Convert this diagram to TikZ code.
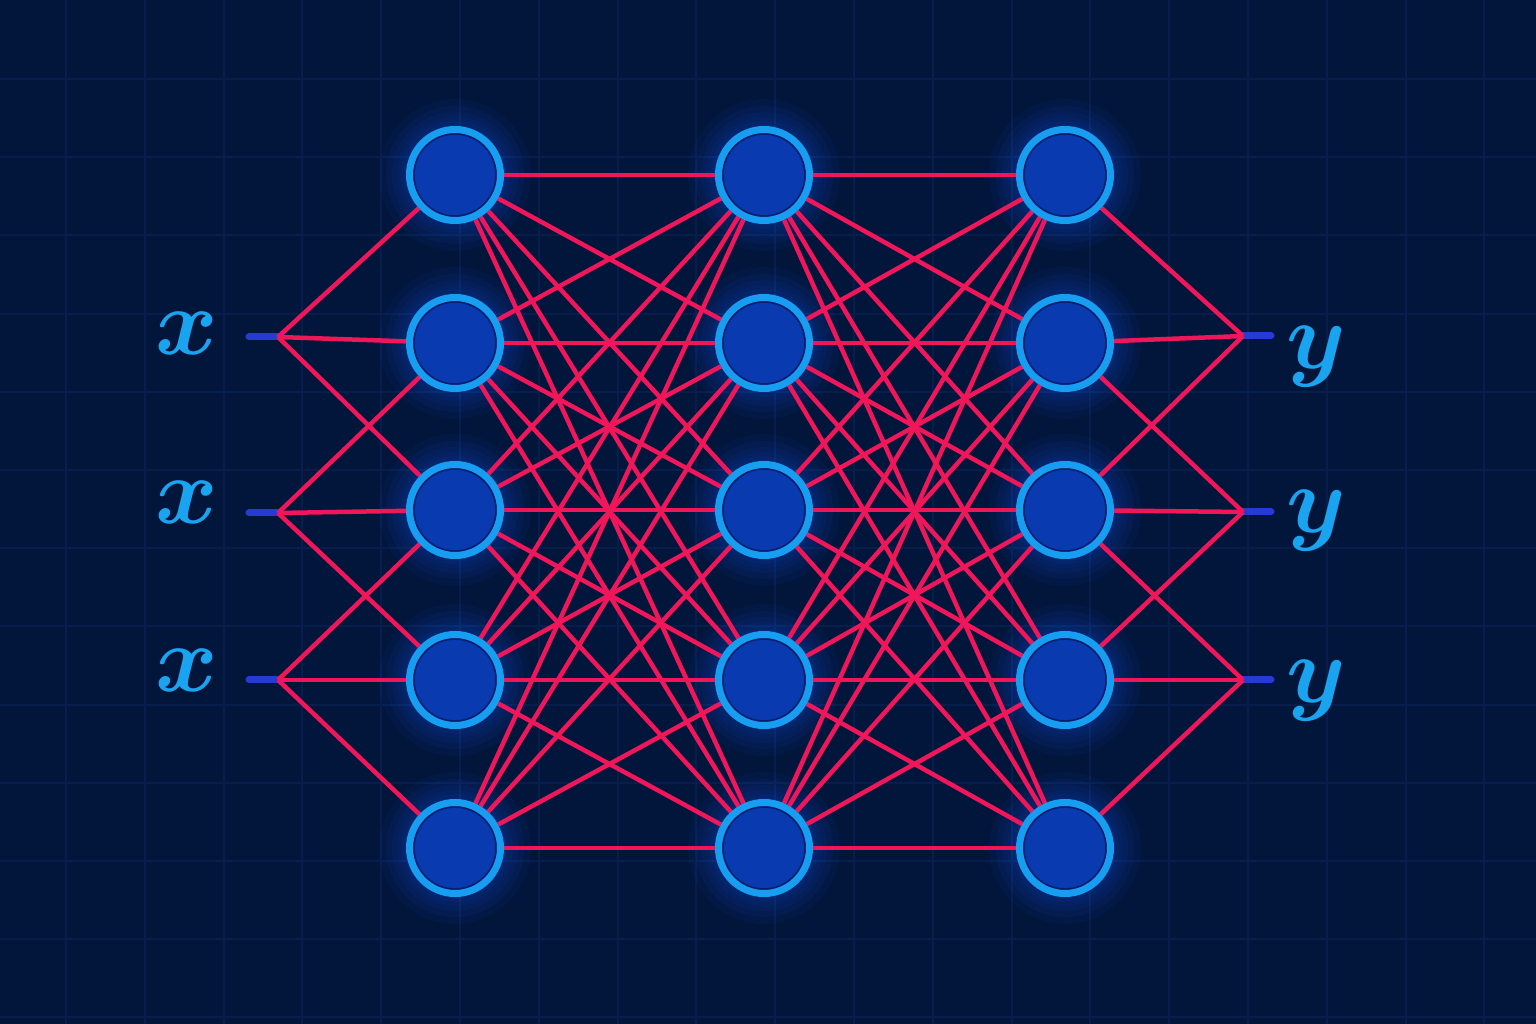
\RequirePackage{fix-cm}
\documentclass[tikz,border=0pt]{standalone}
\definecolor{bgc}{RGB}{2,21,58}
\definecolor{gridc}{RGB}{7,30,76}
\definecolor{edgec}{RGB}{240,22,90}
\definecolor{ringc}{RGB}{24,158,240}
\definecolor{fillc}{RGB}{10,58,176}
\definecolor{stubc}{RGB}{38,58,212}
\definecolor{labc}{RGB}{26,164,240}
\definecolor{glowc}{RGB}{20,90,255}
\definecolor{innerc}{RGB}{8,30,110}
\pgfdeclarelayer{gridlayer}
\pgfdeclarelayer{glowlayer}
\pgfdeclarelayer{edgelayer}
\pgfsetlayers{gridlayer,glowlayer,edgelayer,main}
\tikzset{
  neuron/.style={circle, draw=ringc, line width=0.7mm, fill=fillc,
    minimum size=9.1mm, inner sep=0pt,
    path picture={\draw[innerc,line width=0.2mm] (path picture bounding box.center) circle (4.12mm);}},
  edgeline/.style={draw=edgec, line width=0.45mm},
  stubline/.style={draw=stubc, line width=0.7mm, line cap=round},
  gridline/.style={draw=gridc, line width=0.2mm},
  lab/.style={text=labc, inner sep=0pt, anchor=base, font=\fontsize{27}{27}\selectfont\boldmath}
}
\begin{document}
\begin{tikzpicture}[x=0.1mm,y=-0.1mm]
\useasboundingbox (0,0) rectangle (1536,1024);
\begin{pgfonlayer}{gridlayer}
  \fill[bgc] (0,0) rectangle (1536,1024);
  \foreach \k in {0,...,18} \draw[gridline] ({66+78.8*\k},0) -- ({66+78.8*\k},1024);
  \foreach \k in {0,...,12} \draw[gridline] (0,{79+78.2*\k}) -- (1536,{79+78.2*\k});
\end{pgfonlayer}

% neurons
\foreach \r/\y in {1/175,2/343,3/510,4/680,5/848} {
  \node[neuron] (a\r) at (455,\y) {};
  \node[neuron] (b\r) at (764,\y) {};
  \node[neuron] (c\r) at (1065,\y) {};
}

% input / output points
\foreach \k/\y in {1/337,2/513,3/680} {
  \coordinate (s\k) at (249,\y);
  \coordinate (i\k) at (278,\y);
}
\foreach \k/\y in {1/336,2/512,3/680} {
  \coordinate (o\k) at (1243,\y);
  \coordinate (t\k) at (1271,\y);
}

% labels
\node[lab] (lx1) at (187,355) {$x$};
\node[lab] (lx2) at (187,524) {$x$};
\node[lab] (lx3) at (187,692) {$x$};
\node[lab] (ly1) at (1316,369) {$y$};
\node[lab] (ly2) at (1316,533) {$y$};
\node[lab] (ly3) at (1316,702) {$y$};

\begin{pgfonlayer}{glowlayer}
  \foreach \n in {a1,a2,a3,a4,a5,b1,b2,b3,b4,b5,c1,c2,c3,c4,c5} {
    \foreach \rr in {5.0,5.4,5.8,6.3,6.9,7.6} {
      \fill[glowc,opacity=0.06] (\n.center) circle (\rr mm);
    }
  }
\end{pgfonlayer}

\begin{pgfonlayer}{edgelayer}
  \foreach \k in {1,2,3} {
    \draw[stubline] (s\k) -- (i\k);
    \draw[stubline] (o\k) -- (t\k);
  }
  \foreach \k in {1,2,3} {
    \foreach \d in {0,1,2} {
      \pgfmathtruncatemacro\n{\k+\d}
      \draw[edgeline] (i\k) -- (a\n);
      \draw[edgeline] (c\n) -- (o\k);
    }
  }
  \foreach \i in {1,...,5} {
    \foreach \j in {1,...,5} {
      \draw[edgeline] (a\i) -- (b\j);
      \draw[edgeline] (b\i) -- (c\j);
    }
  }
\end{pgfonlayer}
\end{tikzpicture}
\end{document}
